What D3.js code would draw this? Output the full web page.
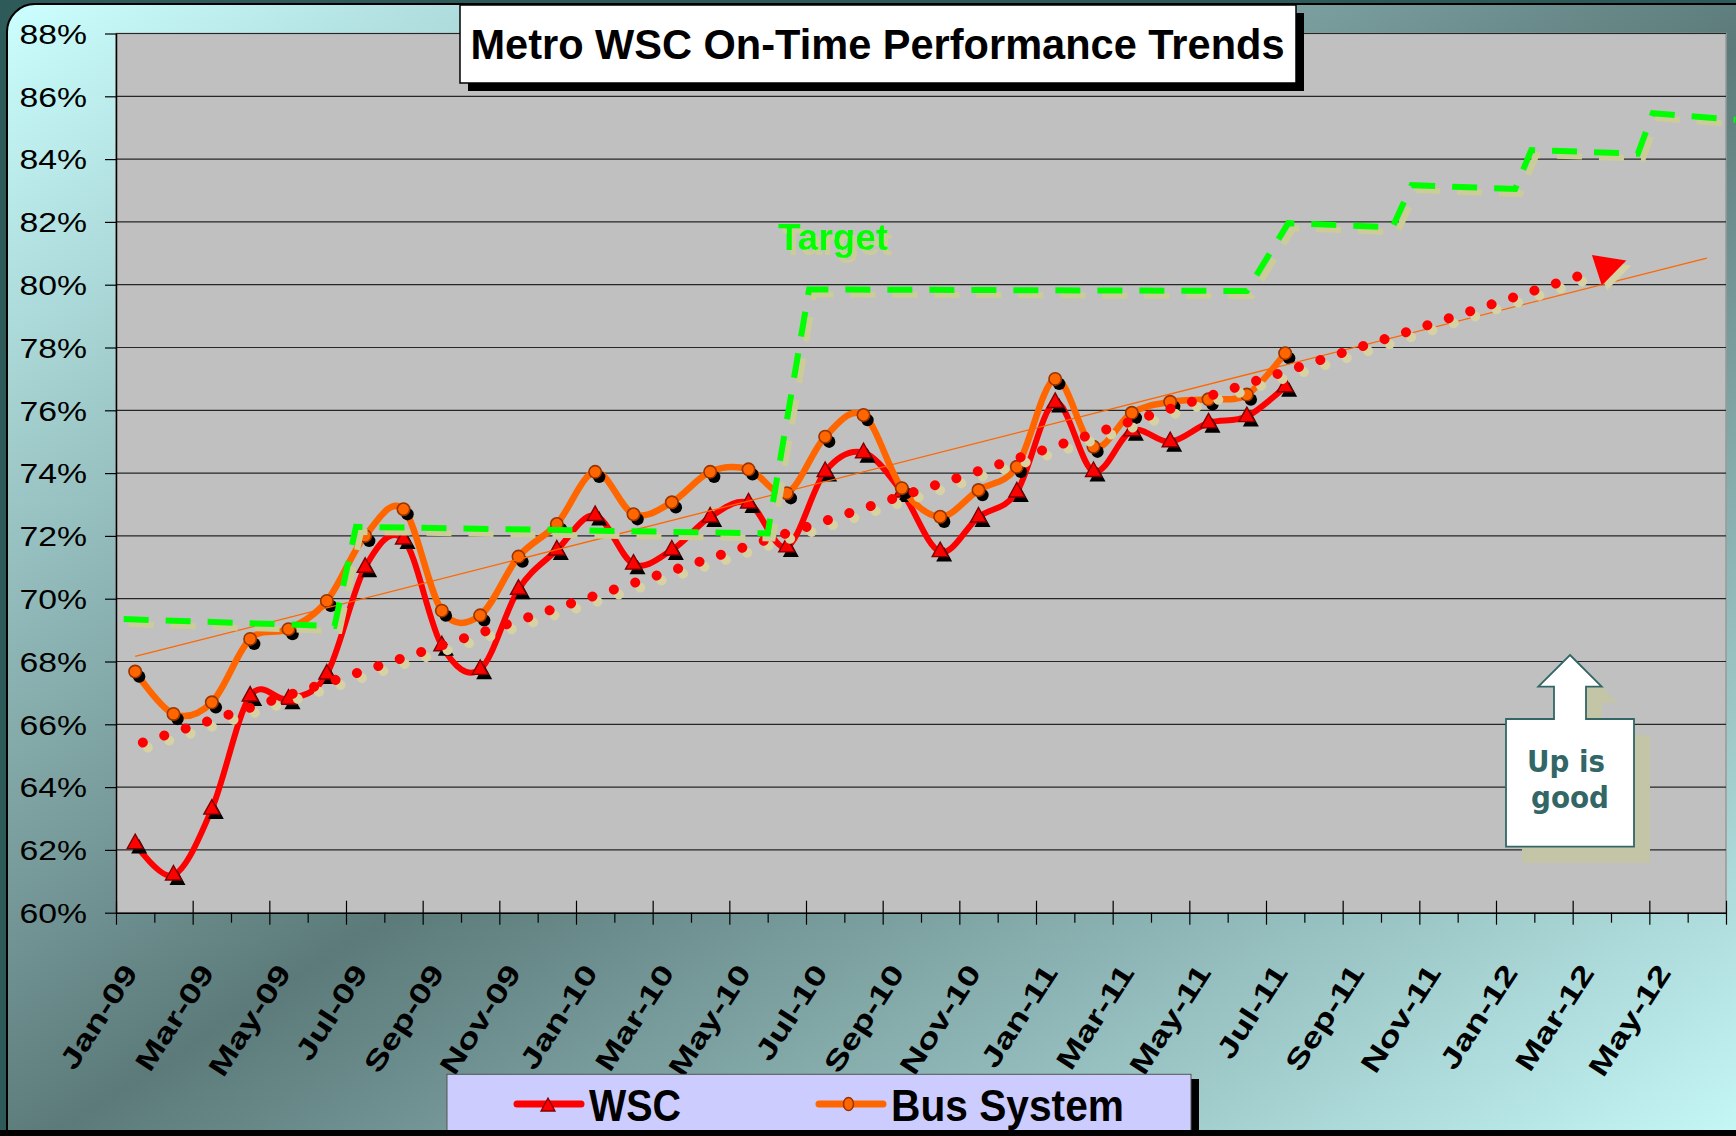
<!DOCTYPE html>
<html>
<head>
<meta charset="utf-8">
<script src="https://cdn.jsdelivr.net/npm/d3@7"></script>
<style>
  body { margin: 0; background: #2e5a5a; }
  svg { display: block; }
</style>
</head>
<body>
<div id="chart"></div>
<script>
// ---- data ----
const months = ["Jan-09","Feb-09","Mar-09","Apr-09","May-09","Jun-09","Jul-09","Aug-09","Sep-09","Oct-09","Nov-09","Dec-09",
                "Jan-10","Feb-10","Mar-10","Apr-10","May-10","Jun-10","Jul-10","Aug-10","Sep-10","Oct-10","Nov-10","Dec-10",
                "Jan-11","Feb-11","Mar-11","Apr-11","May-11","Jun-11","Jul-11","Aug-11","Sep-11","Oct-11","Nov-11","Dec-11",
                "Jan-12","Feb-12","Mar-12","Apr-12","May-12","Jun-12"];

// WSC on-time %, Jan-09 .. Jul-11
const wsc = [62.2, 61.2, 63.3, 66.9, 66.8, 67.6, 71.0, 71.9, 68.5, 67.75, 70.3, 71.55,
             72.65, 71.1, 71.55, 72.6, 73.05, 71.65, 74.05, 74.65, 73.4, 71.5, 72.6, 73.4,
             76.25, 74.05, 75.35, 75.0, 75.6, 75.8, 76.75];

// Bus System on-time %, Jan-09 .. Jul-11
const bus = [67.68, 66.33, 66.7, 68.72, 69.03, 69.93, 72.0, 72.85, 69.62, 69.47, 71.34, 72.38,
             74.04, 72.69, 73.07, 74.04, 74.12, 73.36, 75.16, 75.85, 73.52, 72.61, 73.46, 74.2,
             77.0, 74.84, 75.92, 76.27, 76.35, 76.5, 77.82];

// target step line (month position, %)
const targetMonth = [-0.3, 5.2, 5.76, 16.5, 17.58, 29.0, 30.08, 32.8, 33.3, 36.0, 36.42, 39.2, 39.59, 41.75];
const targetValue = [69.35, 69.13, 72.29, 72.08, 79.85, 79.8, 81.96, 81.83, 83.17, 83.05, 84.29, 84.17, 85.46, 85.25];

const yTicks = [60, 62, 64, 66, 68, 70, 72, 74, 76, 78, 80, 82, 84, 86, 88];

// ---- layout ----
const W = 1736, H = 1136;
const plot = {left: 116, right: 1726, top: 33.5, bottom: 912.7};

const svg = d3.select("#chart").append("svg")
    .attr("width", W)
    .attr("height", H);

const defs = svg.append("defs");
const grad = defs.append("linearGradient")
    .attr("id", "panelGrad")
    .attr("x1", 0).attr("y1", 0).attr("x2", 1).attr("y2", 1);
grad.append("stop").attr("offset", 0).attr("stop-color", "#ccffff");
grad.append("stop").attr("offset", 0.5).attr("stop-color", "#5c7a7a");
grad.append("stop").attr("offset", 1).attr("stop-color", "#ccffff");

// background + rounded panel
svg.append("rect").attr("width", W).attr("height", H).attr("fill", "#2e5a5a");
svg.append("rect")
    .attr("x", 7).attr("y", 4)
    .attr("width", 1790).attr("height", 1160)
    .attr("rx", 28)
    .attr("fill", "url(#panelGrad)")
    .attr("stroke", "#000")
    .attr("stroke-width", 2);

// scales
const x = d3.scaleLinear().domain([-0.5, months.length - 0.5]).range([plot.left, plot.right]);
const y = d3.scaleLinear().domain([60, 88]).range([plot.bottom, plot.top]);

// plot area
svg.append("rect")
    .attr("x", plot.left).attr("y", plot.top)
    .attr("width", plot.right - plot.left)
    .attr("height", plot.bottom - plot.top)
    .attr("fill", "#c0c0c0")
    .attr("stroke", "#999")
    .attr("stroke-width", 1.5);

// gridlines
svg.append("g")
    .selectAll("line")
    .data(yTicks.filter(d => d > 60))
    .join("line")
    .attr("x1", plot.left).attr("x2", plot.right)
    .attr("y1", d => y(d)).attr("y2", d => y(d))
    .attr("stroke", "#262626")
    .attr("stroke-width", 1.2);

// least squares fit over the month index
function linFit(vals) {
    const mx = d3.mean(vals, (d, i) => i);
    const my = d3.mean(vals);
    let sxy = 0, sxx = 0;
    vals.forEach((v, i) => { sxy += (i - mx) * (v - my); sxx += (i - mx) * (i - mx); });
    const b = sxy / sxx;
    return t => my + b * (t - mx);
}
const busFit = linFit(bus);
const wscFit = linFit(wsc);

const smooth = d3.line()
    .x((d, i) => x(i))
    .y(d => y(d))
    .curve(d3.curveCardinal.tension(0));

const triPath = "M0,-9.5L8,5L-8,5Z";

// WSC series
svg.append("path")
    .datum(wsc)
    .attr("d", smooth)
    .attr("fill", "none")
    .attr("stroke", "#ff0000")
    .attr("stroke-width", 6)
    .attr("stroke-linejoin", "round");

svg.append("g")
    .selectAll("path")
    .data(wsc)
    .join("path")
    .attr("d", triPath)
    .attr("transform", (d, i) => `translate(${x(i) + 4},${y(d) + 5})`)
    .attr("fill", "#000");

svg.append("g")
    .selectAll("path")
    .data(wsc)
    .join("path")
    .attr("d", triPath)
    .attr("transform", (d, i) => `translate(${x(i)},${y(d)})`)
    .attr("fill", "#ff0000")
    .attr("stroke", "#800000")
    .attr("stroke-width", 1.4);

// Bus series
svg.append("path")
    .datum(bus)
    .attr("d", smooth)
    .attr("fill", "none")
    .attr("stroke", "#ff6600")
    .attr("stroke-width", 6.5)
    .attr("stroke-linejoin", "round");

svg.append("g")
    .selectAll("circle")
    .data(bus)
    .join("circle")
    .attr("cx", (d, i) => x(i) + 4)
    .attr("cy", d => y(d) + 5)
    .attr("r", 6.2)
    .attr("fill", "#000");

svg.append("g")
    .selectAll("circle")
    .data(bus)
    .join("circle")
    .attr("cx", (d, i) => x(i))
    .attr("cy", d => y(d))
    .attr("r", 6.2)
    .attr("fill", "#ff6600")
    .attr("stroke", "#993300")
    .attr("stroke-width", 1.6);

// thin bus trend line
svg.append("line")
    .attr("x1", x(0)).attr("y1", y(busFit(0)))
    .attr("x2", x(41)).attr("y2", y(busFit(41)))
    .attr("stroke", "#ff6600")
    .attr("stroke-width", 1.3);

// red dotted WSC trend with arrow head
const tipT = 38.9;
const tip = [x(tipT), y(wscFit(tipT))];
const dirRaw = [x(tipT) - x(0), y(wscFit(tipT)) - y(wscFit(0))];
const len = Math.hypot(dirRaw[0], dirRaw[1]);
const dir = [dirRaw[0] / len, dirRaw[1] / len];
const perp = [-dir[1], dir[0]];
const baseC = [tip[0] - 31 * dir[0], tip[1] - 31 * dir[1]];
const head = [tip,
    [baseC[0] + 16 * perp[0], baseC[1] + 16 * perp[1]],
    [baseC[0] - 16 * perp[0], baseC[1] - 16 * perp[1]]];
const start = [x(0.2), y(wscFit(0.2))];

[["#d6d2a4", 5, 5], ["#ff0000", 0, 0]].forEach(([col, dx, dy]) => {
    svg.append("line")
        .attr("x1", start[0] + dx).attr("y1", start[1] + dy)
        .attr("x2", baseC[0] + dx).attr("y2", baseC[1] + dy)
        .attr("stroke", col)
        .attr("stroke-width", 10)
        .attr("stroke-linecap", "round")
        .attr("stroke-dasharray", "0.01 22.5");
    svg.append("path")
        .attr("d", "M" + head.map(p => [p[0] + dx, p[1] + dy].join(",")).join("L") + "Z")
        .attr("fill", col);
});

// target step line
const targetLine = d3.line()
    .x((d, i) => x(targetMonth[i]))
    .y(d => y(d));

[["#cccc99", 5, 5], ["#00ff00", 0, 0]].forEach(([col, dx, dy]) => {
    svg.append("path")
        .datum(targetValue)
        .attr("d", targetLine)
        .attr("transform", `translate(${dx},${dy})`)
        .attr("fill", "none")
        .attr("stroke", col)
        .attr("stroke-width", 6)
        .attr("stroke-dasharray", "25 17");
});

// "Target" label with its soft shadow drawn as an SVG filter (single text element)
const sh = defs.append("filter").attr("id", "tShadow").attr("x", -0.1).attr("y", -0.2).attr("width", 1.3).attr("height", 1.5);
sh.append("feFlood").attr("flood-color", "#cccc99").attr("result", "c");
sh.append("feComposite").attr("in", "c").attr("in2", "SourceAlpha").attr("operator", "in").attr("result", "s");
sh.append("feOffset").attr("in", "s").attr("dx", 4).attr("dy", 5).attr("result", "o");
const mg = sh.append("feMerge");
mg.append("feMergeNode").attr("in", "o");
mg.append("feMergeNode").attr("in", "SourceGraphic");

svg.append("text")
    .attr("x", 778).attr("y", 250)
    .attr("font-family", "Liberation Sans, Arial, sans-serif")
    .attr("font-weight", "bold")
    .attr("font-size", 37)
    .attr("fill", "#00ff00")
    .attr("filter", "url(#tShadow)")
    .text("Target");

// axes
const yAxis = svg.append("g")
    .attr("transform", `translate(${plot.left},0)`)
    .call(d3.axisLeft(y).tickValues(yTicks).tickFormat(d => d + "%").tickSize(11).tickSizeOuter(0));
yAxis.select(".domain").attr("stroke", "#000").attr("stroke-width", 1.5);
yAxis.selectAll(".tick line").attr("stroke", "#000").attr("stroke-width", 1.2);
yAxis.selectAll("text")
    .attr("x", 0)
    .attr("dy", "0.36em")
    .attr("transform", "translate(-29,0) scale(1.25,1)")
    .attr("font-family", "Liberation Sans, Arial, sans-serif")
    .attr("font-size", 27)
    .attr("fill", "#000");

const xTicksAxis = svg.append("g")
    .attr("transform", `translate(0,${plot.bottom})`)
    .call(d3.axisBottom(x).tickValues(d3.range(-0.5, months.length, 1)).tickFormat("").tickSizeOuter(0));
xTicksAxis.select(".domain").attr("stroke", "#000").attr("stroke-width", 1.5);
xTicksAxis.selectAll(".tick line")
    .attr("stroke", "#000")
    .attr("stroke-width", 1.2)
    .attr("y1", (d, k) => k % 2 === 0 ? -12 : 0)
    .attr("y2", (d, k) => k % 2 === 0 ? 12 : 10);

const xLabels = svg.append("g")
    .attr("transform", `translate(0,${plot.bottom})`)
    .call(d3.axisBottom(x).tickValues(d3.range(0, months.length, 2)).tickFormat(i => months[i]).tickSize(0));
xLabels.select(".domain").remove();
xLabels.selectAll("text")
    .attr("x", 0).attr("y", 0).attr("dy", 0)
    .attr("text-anchor", "end")
    .attr("transform", "translate(3,60) rotate(-57) scale(1.33,1)")
    .attr("font-family", "Liberation Sans, Arial, sans-serif")
    .attr("font-weight", "bold")
    .attr("font-size", 28)
    .attr("fill", "#000");

// title box
svg.append("rect")
    .attr("x", 468).attr("y", 13).attr("width", 836).attr("height", 78)
    .attr("fill", "#000");
svg.append("rect")
    .attr("x", 460).attr("y", 5).attr("width", 836).attr("height", 78)
    .attr("fill", "#fff")
    .attr("stroke", "#000")
    .attr("stroke-width", 1.5);
svg.append("text")
    .attr("x", 470.5).attr("y", 59.3)
    .attr("font-family", "Liberation Sans, Arial, sans-serif")
    .attr("font-weight", "bold")
    .attr("font-size", 43)
    .attr("textLength", 814)
    .attr("lengthAdjust", "spacingAndGlyphs")
    .text("Metro WSC On-Time Performance Trends");

// "Up is good" callout
const callout = "M1570,655L1601.7,686.7L1586,686.7L1586,719L1634,719L1634,846.7L1506,846.7L1506,719L1554,719L1554,686.7L1538.3,686.7Z";
svg.append("path").attr("d", callout).attr("transform", "translate(16,16)").attr("fill", "#c4c4a6");
svg.append("path").attr("d", callout).attr("fill", "#fff").attr("stroke", "#336666").attr("stroke-width", 1.8);
[["Up is", 1566, 771.7], ["good", 1570, 808.3]].forEach(([t, cx, by]) => {
    svg.append("text")
        .attr("x", cx).attr("y", by)
        .attr("text-anchor", "middle")
        .attr("font-family", "DejaVu Sans, Verdana, sans-serif")
        .attr("font-weight", "bold")
        .attr("font-size", 30)
        .attr("textLength", 78)
        .attr("lengthAdjust", "spacingAndGlyphs")
        .attr("fill", "#336666")
        .text(t);
});

// legend
svg.append("rect").attr("x", 455).attr("y", 1079).attr("width", 744).attr("height", 70).attr("fill", "#000");
svg.append("rect")
    .attr("x", 447).attr("y", 1074.3).attr("width", 744).attr("height", 70)
    .attr("fill", "#ccccff")
    .attr("stroke", "#555")
    .attr("stroke-width", 1);

const legendItems = [
    {name: "WSC", color: "#ff0000", x0: 517, tl: 92},
    {name: "Bus System", color: "#ff6600", x0: 819, tl: 233}
];
legendItems.forEach((d, k) => {
    svg.append("line")
        .attr("x1", d.x0).attr("x2", d.x0 + 64)
        .attr("y1", 1104).attr("y2", 1104)
        .attr("stroke", d.color)
        .attr("stroke-width", 7)
        .attr("stroke-linecap", "round");
    if (k === 0) {
        svg.append("path").attr("d", "M0,-8L7,5L-7,5Z")
            .attr("transform", `translate(${d.x0 + 31},${1106})`)
            .attr("fill", "#ff0000").attr("stroke", "#800000").attr("stroke-width", 1.3);
    } else {
        svg.append("ellipse")
            .attr("cx", d.x0 + 29.5).attr("cy", 1104).attr("rx", 5).attr("ry", 6.5)
            .attr("fill", "#ff6600").attr("stroke", "#993300").attr("stroke-width", 1.5);
    }
    svg.append("text")
        .attr("x", d.x0 + 72).attr("y", 1120.7)
        .attr("font-family", "Liberation Sans, Arial, sans-serif")
        .attr("font-weight", "bold")
        .attr("font-size", 45)
        .attr("textLength", d.tl)
        .attr("lengthAdjust", "spacingAndGlyphs")
        .text(d.name);
});

// bottom border band
svg.append("rect").attr("x", 0).attr("y", 1130).attr("width", W).attr("height", 6).attr("fill", "#000");
</script>
</body>
</html>
